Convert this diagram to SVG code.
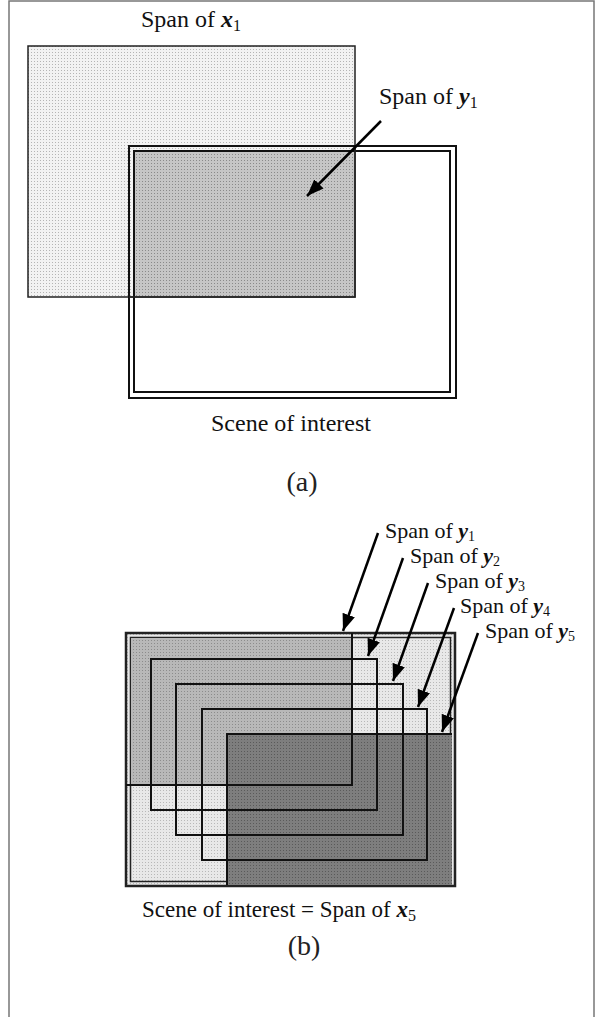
<svg xmlns="http://www.w3.org/2000/svg" width="601" height="1017" viewBox="0 0 601 1017">
  <defs>
    <pattern id="dotLight" width="3" height="3" patternUnits="userSpaceOnUse">
      <rect width="3" height="3" fill="#f2f2f2"/>
      <rect x="1" y="1" width="1" height="1" fill="#b4b4b4"/>
    </pattern>
    <pattern id="dotMid" width="3" height="3" patternUnits="userSpaceOnUse">
      <rect width="3" height="3" fill="#c6c6c6"/>
      <rect x="1" y="1" width="1" height="1" fill="#8a8a8a"/>
    </pattern>
    <pattern id="dotLightB" width="3" height="3" patternUnits="userSpaceOnUse">
      <rect width="3" height="3" fill="#e8e8e8"/>
      <rect x="1" y="1" width="1" height="1" fill="#b8b8b8"/>
    </pattern>
    <pattern id="dotMidB" width="3" height="3" patternUnits="userSpaceOnUse">
      <rect width="3" height="3" fill="#b8b8b8"/>
      <rect x="1" y="1" width="1" height="1" fill="#8c8c8c"/>
    </pattern>
    <pattern id="dotDarkB" width="3" height="3" patternUnits="userSpaceOnUse">
      <rect width="3" height="3" fill="#7e7e7e"/>
      <rect x="1" y="1" width="1" height="1" fill="#5a5a5a"/>
    </pattern>
    <marker id="arrow" markerUnits="userSpaceOnUse" markerWidth="18" markerHeight="13" refX="17" refY="6.5" orient="auto">
      <path d="M0,0 L17,6.5 L0,13 z" fill="#000"/>
    </marker>
  </defs>
  <style>
    .lbl { font-family: "Liberation Serif", "Times New Roman", serif; font-size: 24px; fill: #111; }
    .lblb { font-family: "Liberation Serif", "Times New Roman", serif; font-size: 22px; fill: #111; }
    .var { font-weight: bold; font-style: italic; }
    .sub { font-size: 16px; }
    .subb { font-size: 14px; }
    .cap { font-family: "Liberation Serif", "DejaVu Serif", serif; font-size: 28px; fill: #222; }
    .edge { fill: none; stroke: #111; stroke-width: 2; }
    .conn { stroke: #000; stroke-width: 2.5; fill: none; marker-end: url(#arrow); }
  </style>

  <rect width="601" height="1017" fill="#fff"/>
  <path id="frame" d="M9,1017 V1 H594 V1017" fill="none" stroke="#777" stroke-width="1.5"/>

  <!-- Panel (a) -->
  <g id="span-x1">
    <rect x="28" y="46" width="327" height="251" fill="url(#dotLight)" stroke="#222" stroke-width="1.5"/>
  </g>
  <g id="scene-a">
    <rect x="129" y="146" width="327" height="252" class="edge" stroke-width="2.5"/>
    <rect x="134" y="151" width="316" height="241" class="edge" stroke-width="2.5"/>
  </g>
  <g id="span-y1-a">
    <rect x="135" y="152" width="219" height="144" fill="url(#dotMid)"/>
    <path d="M355,146 V297 H129" fill="none" stroke="#222" stroke-width="1.5"/>
  </g>
  <text class="lbl" x="141" y="27">Span of <tspan class="var">x</tspan><tspan class="sub" dy="4">1</tspan></text>
  <text class="lbl" x="379" y="104">Span of <tspan class="var">y</tspan><tspan class="sub" dy="4">1</tspan></text>
  <text class="lbl" x="211" y="431">Scene of interest</text>
  <text class="cap" x="302" y="491" text-anchor="middle">(a)</text>

  <!-- Panel (b) -->
  <g id="scene-b">
    <rect x="126" y="633" width="329" height="253" fill="url(#dotLightB)" stroke="#222" stroke-width="2.5"/>
    <rect x="130.5" y="637.5" width="320" height="244" fill="none" stroke="#222" stroke-width="1.5"/>
  </g>
  <g id="span-y1-fill">
    <rect x="131" y="638" width="221" height="147" fill="url(#dotMidB)"/>
  </g>
  <g id="span-y5-b">
    <rect x="227" y="734" width="225" height="151" fill="url(#dotDarkB)"/>
    <path d="M227,885 V734 H452" class="edge"/>
  </g>
  <g id="span-y1-b">
    <path d="M352,633 V785 H126" class="edge"/>
  </g>
  <g id="span-y2-b">
    <rect x="151" y="659" width="226" height="151" class="edge"/>
  </g>
  <g id="span-y3-b">
    <rect x="176" y="684" width="227" height="151" class="edge"/>
  </g>
  <g id="span-y4-b">
    <rect x="202" y="709" width="225" height="151" class="edge"/>
  </g>

  <g id="connectors">
    <line class="conn" x1="381" y1="121" x2="307" y2="196" stroke-width="2"/>
    <line class="conn" x1="378" y1="533" x2="343" y2="631"/>
    <line class="conn" x1="403" y1="558" x2="368" y2="656"/>
    <line class="conn" x1="428" y1="583" x2="393" y2="681"/>
    <line class="conn" x1="454" y1="608" x2="418" y2="707"/>
    <line class="conn" x1="478" y1="633" x2="442" y2="732"/>
  </g>

  <text class="lblb" x="385" y="538">Span of <tspan class="var">y</tspan><tspan class="subb" dy="3">1</tspan></text>
  <text class="lblb" x="410" y="563">Span of <tspan class="var">y</tspan><tspan class="subb" dy="3">2</tspan></text>
  <text class="lblb" x="435" y="588">Span of <tspan class="var">y</tspan><tspan class="subb" dy="3">3</tspan></text>
  <text class="lblb" x="460" y="613">Span of <tspan class="var">y</tspan><tspan class="subb" dy="3">4</tspan></text>
  <text class="lblb" x="485" y="638">Span of <tspan class="var">y</tspan><tspan class="subb" dy="3">5</tspan></text>
  <text class="lbl" x="142" y="917" style="font-size:23px">Scene of interest = Span of <tspan class="var">x</tspan><tspan class="sub" dy="4">5</tspan></text>
  <text class="cap" x="304" y="955" text-anchor="middle">(b)</text>
</svg>
